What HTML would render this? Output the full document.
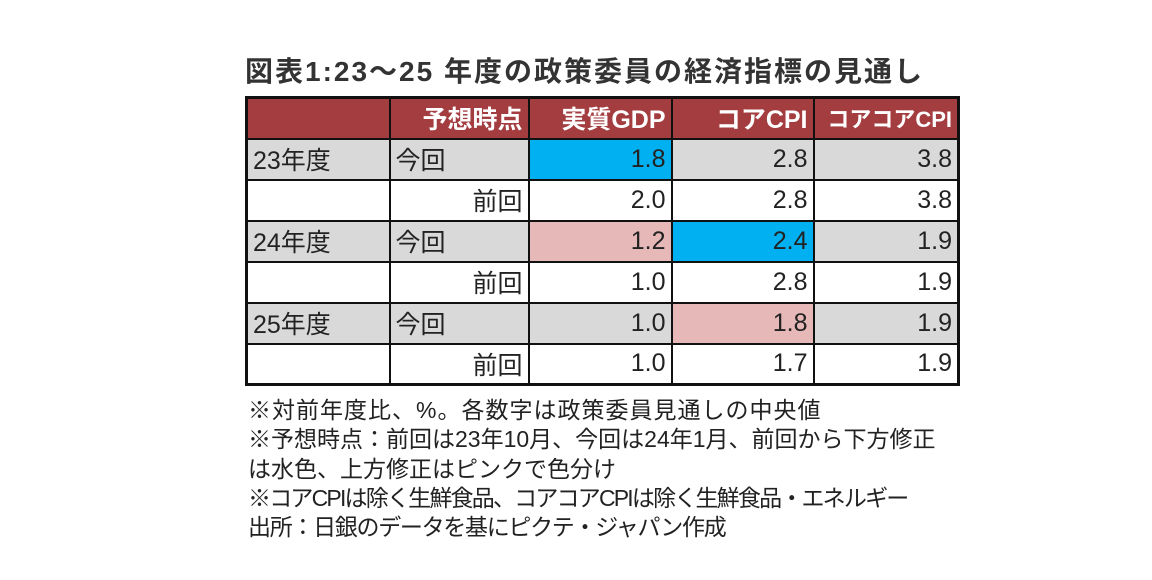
<!DOCTYPE html>
<html><head><meta charset="utf-8"><style>
body{margin:0;width:1152px;height:580px;background:#fff;position:relative;overflow:hidden;font-family:"Liberation Sans","Noto Sans CJK JP",sans-serif;color:#222}
#title{position:absolute;left:245px;top:50px;font-size:28px;font-weight:bold;color:#333;white-space:nowrap;letter-spacing:2px}
table{position:absolute;left:245px;top:96px;border-collapse:collapse;border:3px solid #111;table-layout:fixed}
td{border:2px solid #111;height:41px;padding:0 5px;font-size:25px;box-sizing:border-box;white-space:nowrap;overflow:hidden}
tr.h td{background:#a33d40;color:#fff;font-weight:bold;text-align:right;height:41px}
.g td{background:#d9d9d9}
.w td{background:#fff}
.n{text-align:right}
.b{background:#00b0f0!important}
.p{background:#e6b8b7!important}
#notes{position:absolute;left:248px;top:396px;font-size:23px;line-height:29.3px;color:#222;white-space:nowrap}
#notes div{height:29.3px}
</style></head><body>
<div id="title">図表1:23～25 年度の政策委員の経済指標の見通し</div>
<table>
<colgroup><col style="width:143px"><col style="width:139px"><col style="width:143px"><col style="width:142px"><col style="width:145px"></colgroup>
<tr class="h"><td></td><td>予想時点</td><td>実質GDP</td><td>コアCPI</td><td style="font-size:22px">コアコアCPI</td></tr>
<tr class="g"><td>23年度</td><td>今回</td><td class="n b">1.8</td><td class="n">2.8</td><td class="n">3.8</td></tr>
<tr class="w"><td></td><td class="n">前回</td><td class="n">2.0</td><td class="n">2.8</td><td class="n">3.8</td></tr>
<tr class="g"><td>24年度</td><td>今回</td><td class="n p">1.2</td><td class="n b">2.4</td><td class="n">1.9</td></tr>
<tr class="w"><td></td><td class="n">前回</td><td class="n">1.0</td><td class="n">2.8</td><td class="n">1.9</td></tr>
<tr class="g"><td>25年度</td><td>今回</td><td class="n">1.0</td><td class="n p">1.8</td><td class="n">1.9</td></tr>
<tr class="w"><td></td><td class="n">前回</td><td class="n">1.0</td><td class="n">1.7</td><td class="n">1.9</td></tr>
</table>
<div id="notes">
<div style="letter-spacing:1px">※対前年度比、%。各数字は政策委員見通しの中央値</div>
<div style="letter-spacing:0px">※予想時点：前回は23年10月、今回は24年1月、前回から下方修正</div>
<div>は水色、上方修正はピンクで色分け</div>
<div style="letter-spacing:-1.8px">※コアCPIは除く生鮮食品、コアコアCPIは除く生鮮食品・エネルギー</div>
<div style="letter-spacing:-1.3px">出所：日銀のデータを基にピクテ・ジャパン作成</div>
</div>
</body></html>
